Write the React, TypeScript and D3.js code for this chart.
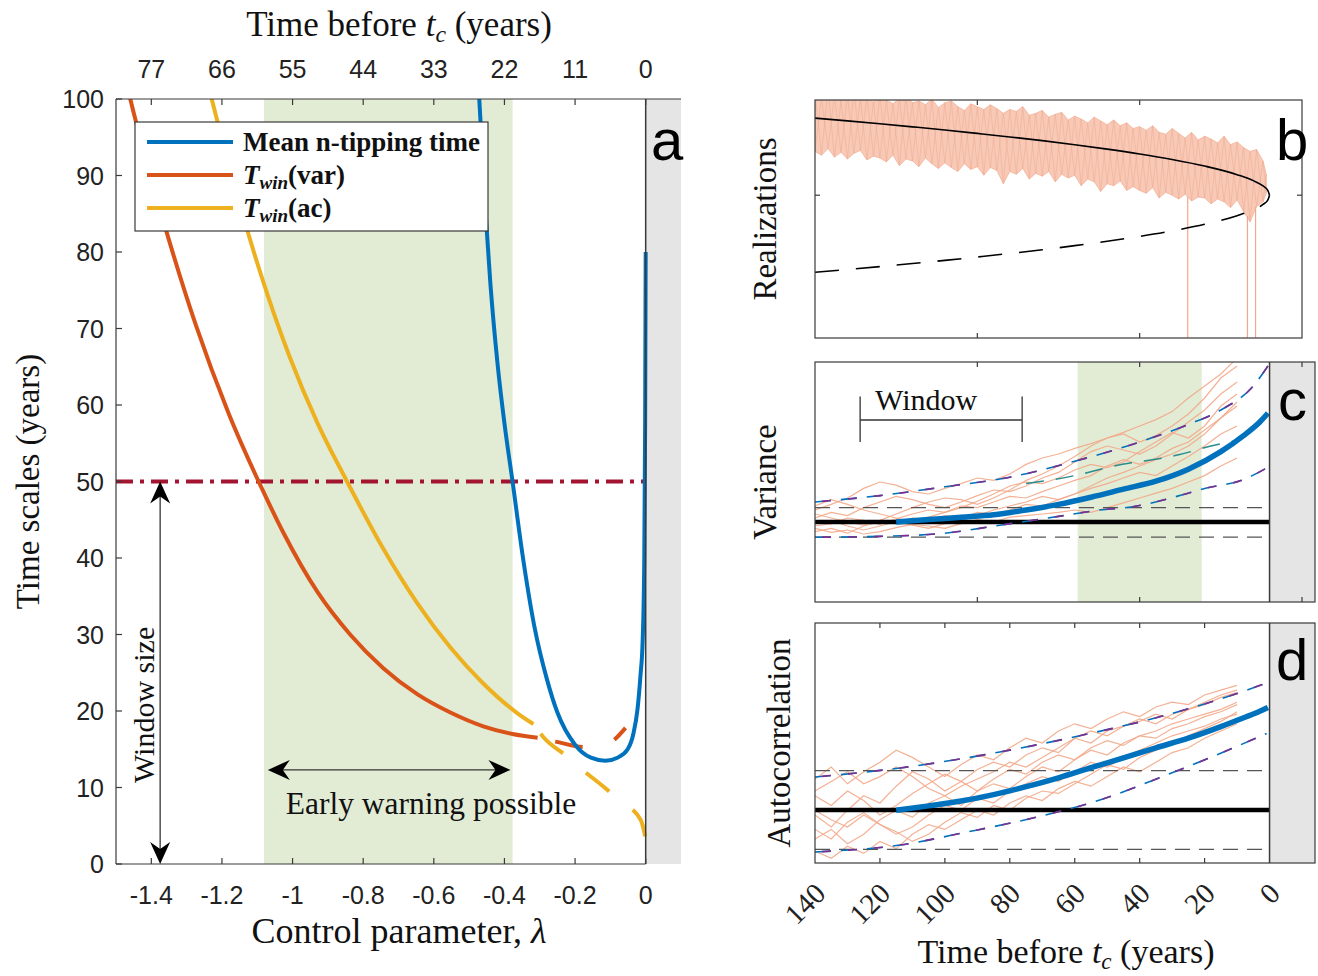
import React from "react";
import * as d3 from "d3";

const SERIF = "'Liberation Serif', 'Times New Roman', serif";
const SANS = "'Liberation Sans', Arial, sans-serif";

// ---------------- Panel a data ----------------
const lambdaTicks = [-1.4, -1.2, -1, -0.8, -0.6, -0.4, -0.2, 0];
const lambdaTickLabels = ["-1.4", "-1.2", "-1", "-0.8", "-0.6", "-0.4", "-0.2", "0"];
const topTickLabels = ["77", "66", "55", "44", "33", "22", "11", "0"];
const yearTicks = [0, 10, 20, 30, 40, 50, 60, 70, 80, 90, 100];

const meanTipLambda = [-0.472, -0.468, -0.455, -0.44, -0.42, -0.4, -0.377, -0.349, -0.315, -0.28, -0.25, -0.2, -0.155, -0.114, -0.08, -0.051, -0.035, -0.023, -0.015, -0.0085, -0.004, -0.0015, 0];
const meanTipYears = [100.6, 97.3, 86.2, 76, 65.6, 57.6, 50, 40.5, 31, 24.2, 19.8, 15.6, 13.9, 13.5, 13.9, 15.0, 17.0, 20.3, 24.5, 29.3, 40, 58, 80];

const varWinLambda = [-1.47, -1.458, -1.368, -1.275, -1.181, -1.09, -1.027, -0.93, -0.837, -0.743, -0.647, -0.553, -0.46, -0.377, -0.306];
const varWinYears = [102, 99.7, 84.4, 70.6, 58.9, 49.4, 43.4, 35.6, 30.0, 25.6, 22.2, 19.8, 18.0, 17.0, 16.5];
const varWinDashLambda = [-0.306, -0.255, -0.176, -0.122, -0.09, -0.057];
const varWinDashYears = [16.5, 16.0, 15.3, 15.3, 16.2, 17.8];

const acWinLambda = [-1.24, -1.229, -1.16, -1.09, -1.01, -0.93, -0.848, -0.743, -0.647, -0.553, -0.46, -0.363, -0.318];
const acWinYears = [102, 100, 87.9, 77.1, 66.5, 57.7, 50.2, 41.2, 34.1, 28.3, 23.6, 19.7, 18.3];
const acWinDashLambda = [-0.318, -0.29, -0.218, -0.176, -0.119, -0.077, -0.014, 0];
const acWinDashYears = [18.3, 16.6, 13.9, 12.2, 10.1, 8.4, 5.75, 3.3];

const windowSizeYears = 50;
const earlyWarningRange = [-1.081, -0.377];
const windowArrowLambda = -1.375;
const earlyArrowLambda = [-1.07, -0.383];
const earlyArrowYears = 12.3;

// ---------------- Panel b data ----------------
const bTickTimes = [90, 40];
const bBranchTime = [140, 130, 120, 110, 100, 90, 80, 70, 60, 50, 40, 30, 20, 10, 5, 2, 0.5, 0];
const bStable = [0.81, 0.781, 0.75, 0.718, 0.685, 0.649, 0.612, 0.573, 0.53, 0.484, 0.433, 0.375, 0.306, 0.216, 0.153, 0.097, 0.048, 0];
const bUnstable = [-0.81, -0.781, -0.75, -0.718, -0.685, -0.649, -0.612, -0.573, -0.53, -0.484, -0.433, -0.375, -0.306, -0.216, -0.153, -0.097, -0.048, 0];
const bNoiseTime = [140, 138, 136, 134, 132, 130, 128, 126, 124, 122, 120, 118, 116, 114, 112, 110, 108, 106, 104, 102, 100, 98, 96, 94, 92, 90, 88, 86, 84, 82, 80, 78, 76, 74, 72, 70, 68, 66, 64, 62, 60, 58, 56, 54, 52, 50, 48, 46, 44, 42, 40, 38, 36, 34, 32, 30, 28, 26, 24, 22, 20, 18, 16, 14, 12, 10, 8, 6, 4, 2, 1];
const bNoiseHigh = [1.08, 1.03, 1.12, 1.05, 0.99, 1.06, 1.09, 1.01, 1.04, 0.98, 1.06, 1.00, 0.96, 1.02, 1.05, 0.97, 0.99, 0.95, 1.01, 0.92, 0.97, 0.99, 0.93, 0.89, 0.96, 0.93, 0.90, 0.95, 0.91, 0.86, 0.90, 0.88, 0.93, 0.84, 0.86, 0.89, 0.82, 0.85, 0.87, 0.79, 0.83, 0.80, 0.76, 0.82, 0.78, 0.74, 0.79, 0.73, 0.76, 0.70, 0.72, 0.68, 0.73, 0.66, 0.64, 0.70, 0.65, 0.60, 0.66, 0.58, 0.62, 0.59, 0.55, 0.62, 0.53, 0.56, 0.50, 0.46, 0.48, 0.36, 0.22];
const bNoiseLow = [0.46, 0.42, 0.49, 0.40, 0.45, 0.38, 0.44, 0.47, 0.37, 0.41, 0.39, 0.35, 0.42, 0.31, 0.38, 0.36, 0.30, 0.39, 0.33, 0.28, 0.34, 0.29, 0.25, 0.33, 0.27, 0.30, 0.21, 0.29, 0.26, 0.12, 0.25, 0.22, 0.28, 0.17, 0.23, 0.20, 0.25, 0.14, 0.22, 0.18, 0.21, 0.10, 0.17, 0.14, 0.04, 0.12, 0.10, 0.15, 0.05, 0.09, 0.05, 0.02, 0.08, -0.03, 0.03, 0.00, -0.04, 0.01, -0.06, -0.02, -0.03, -0.09, -0.04, -0.07, -0.13, -0.05, -0.17, -0.28, -0.12, -0.07, 0.02];
const bDropTime = [25.2, 6.8, 4.3];
const bDropFrom = [-0.02, -0.22, -0.12];

// ---------------- Panel c data ----------------
const cTickTimes = [90, 40, -10];
const traceTime = [140, 135, 130, 125, 120, 115, 110, 105, 100, 95, 90, 85, 80, 75, 70, 65, 60, 55, 50, 45, 40, 35, 30, 25, 20, 15, 10];
const cTrace1 = [1.15, 1.22, 1.30, 1.42, 1.50, 1.46, 1.38, 1.35, 1.42, 1.48, 1.55, 1.52, 1.60, 1.72, 1.80, 1.85, 1.92, 1.98, 2.05, 2.12, 2.20, 2.28, 2.38, 2.55, 2.70, 2.85, 3.05];
const cTrace2 = [1.05, 1.12, 1.08, 1.18, 1.25, 1.32, 1.28, 1.22, 1.18, 1.25, 1.33, 1.40, 1.38, 1.45, 1.55, 1.62, 1.75, 1.88, 1.95, 1.90, 1.85, 1.95, 2.10, 2.25, 2.40, 2.60, 2.75];
const cTrace3 = [0.95, 0.98, 1.05, 1.02, 0.97, 1.04, 1.10, 1.15, 1.12, 1.20, 1.18, 1.25, 1.32, 1.30, 1.38, 1.45, 1.52, 1.58, 1.70, 1.78, 1.72, 1.80, 1.92, 2.00, 2.15, 2.30, 2.50];
const cTrace4 = [0.88, 0.92, 0.86, 0.95, 1.00, 0.98, 1.05, 1.02, 1.08, 1.05, 1.12, 1.10, 1.15, 1.22, 1.20, 1.28, 1.35, 1.42, 1.48, 1.55, 1.62, 1.58, 1.70, 1.82, 1.95, 2.10, 2.20];
const cTrace5 = [1.10, 1.05, 1.00, 0.96, 1.02, 1.10, 1.18, 1.25, 1.30, 1.28, 1.22, 1.30, 1.40, 1.52, 1.60, 1.70, 1.82, 1.95, 2.05, 2.10, 2.00, 2.08, 2.20, 2.35, 2.55, 2.80, 2.95];
const cTrace6 = [0.92, 0.87, 0.90, 0.85, 0.88, 0.93, 0.97, 0.95, 0.92, 0.98, 1.03, 1.00, 1.06, 1.08, 1.10, 1.12, 1.15, 1.12, 1.18, 1.24, 1.30, 1.36, 1.42, 1.50, 1.58, 1.70, 1.80];
const cTrace7 = [1.20, 1.28, 1.22, 1.15, 1.10, 1.05, 1.00, 1.06, 1.12, 1.18, 1.26, 1.35, 1.45, 1.50, 1.48, 1.55, 1.65, 1.72, 1.68, 1.75, 1.88, 2.00, 2.12, 2.05, 2.20, 2.45, 2.60];
const cTrace8 = [0.98, 1.02, 0.95, 0.90, 0.95, 1.00, 0.96, 0.92, 0.98, 1.02, 1.08, 1.15, 1.20, 1.25, 1.32, 1.28, 1.35, 1.45, 1.55, 1.62, 1.70, 1.78, 1.85, 1.95, 2.10, 2.30, 2.45];
const cMeanTime = [115, 105, 95, 85, 75, 65, 55, 45, 35, 25, 15, 8, 3, 0.5];
const cMeanVar = [1.0, 1.03, 1.06, 1.09, 1.15, 1.22, 1.31, 1.41, 1.51, 1.66, 1.88, 2.08, 2.25, 2.36];
const cUpperTime = [140, 120, 100, 80, 60, 40, 25, 15, 5, 0.5];
const cUpperVar = [1.25, 1.33, 1.44, 1.56, 1.76, 2.0, 2.22, 2.4, 2.7, 2.95];
const cMidTime = [75, 60, 49, 28, 17, 10];
const cMidVar = [1.48, 1.58, 1.69, 1.84, 1.96, 2.02];
const cLowerTime = [140, 120, 100, 83, 65, 52.3, 42.2, 26.8, 19.4, 8.3, 0.9];
const cLowerVar = [0.81, 0.82, 0.86, 0.96, 1.07, 1.15, 1.19, 1.34, 1.425, 1.525, 1.675];
const cBaseline = 1.0;
const cBounds = [1.18, 0.81];
const cGreenRange = [59.1, 20.9];
const windowBracket = [126.1, 76.2];

// ---------------- Panel d data ----------------
const dTickTimes = [120, 100, 80, 60, 40, 20];
const dTickLabelTimes = [140, 120, 100, 80, 60, 40, 20, 0];
const dTickLabels = ["140", "120", "100", "80", "60", "40", "20", "0"];
const dTrace1 = [0.35, 0.40, 0.33, 0.38, 0.42, 0.47, 0.44, 0.40, 0.36, 0.41, 0.45, 0.43, 0.48, 0.52, 0.50, 0.55, 0.58, 0.56, 0.60, 0.63, 0.61, 0.65, 0.67, 0.66, 0.70, 0.72, 0.74];
const dTrace2 = [0.20, 0.15, 0.22, 0.28, 0.25, 0.32, 0.38, 0.35, 0.30, 0.34, 0.39, 0.42, 0.40, 0.45, 0.48, 0.46, 0.52, 0.50, 0.55, 0.57, 0.60, 0.58, 0.62, 0.64, 0.66, 0.69, 0.71];
const dTrace3 = [0.10, 0.14, 0.08, 0.12, 0.18, 0.22, 0.19, 0.25, 0.28, 0.24, 0.30, 0.33, 0.31, 0.36, 0.40, 0.38, 0.43, 0.47, 0.45, 0.50, 0.53, 0.52, 0.56, 0.58, 0.61, 0.63, 0.66];
const dTrace4 = [0.28, 0.24, 0.30, 0.26, 0.20, 0.24, 0.29, 0.33, 0.37, 0.34, 0.30, 0.35, 0.39, 0.37, 0.42, 0.45, 0.43, 0.48, 0.51, 0.49, 0.53, 0.55, 0.58, 0.60, 0.62, 0.64, 0.67];
const dTrace5 = [0.05, 0.02, 0.07, 0.04, 0.09, 0.06, 0.12, 0.16, 0.14, 0.18, 0.22, 0.20, 0.25, 0.28, 0.26, 0.31, 0.34, 0.32, 0.36, 0.40, 0.38, 0.42, 0.46, 0.48, 0.52, 0.55, 0.58];
const dTrace6 = [0.22, 0.18, 0.15, 0.20, 0.16, 0.12, 0.15, 0.20, 0.24, 0.22, 0.27, 0.25, 0.30, 0.33, 0.36, 0.34, 0.38, 0.42, 0.40, 0.44, 0.47, 0.50, 0.53, 0.55, 0.57, 0.60, 0.62];
const dTrace7 = [0.30, 0.34, 0.38, 0.33, 0.36, 0.40, 0.36, 0.31, 0.28, 0.32, 0.35, 0.38, 0.42, 0.40, 0.44, 0.48, 0.52, 0.55, 0.53, 0.57, 0.59, 0.62, 0.60, 0.64, 0.67, 0.70, 0.72];
const dTrace8 = [0.14, 0.10, 0.17, 0.21, 0.16, 0.13, 0.09, 0.12, 0.17, 0.21, 0.19, 0.24, 0.22, 0.27, 0.30, 0.29, 0.33, 0.37, 0.41, 0.39, 0.44, 0.47, 0.50, 0.53, 0.56, 0.59, 0.63];
const dMeanTime = [115, 105, 95, 85, 75, 65, 55, 45, 35, 25, 15, 8, 3, 0.5];
const dMeanAc = [0.22, 0.238, 0.258, 0.285, 0.318, 0.355, 0.397, 0.438, 0.48, 0.52, 0.568, 0.605, 0.632, 0.648];
const dUpperTime = [140, 113.8, 83.1, 57.5, 31.7, 11.4, 0.9];
const dUpperAc = [0.358, 0.396, 0.4625, 0.533, 0.617, 0.7, 0.75];
const dLowerTime = [140, 113.8, 93.2, 72.9, 52.3, 31.7, 16.3, 0.9];
const dLowerAc = [0.046, 0.075, 0.129, 0.1875, 0.2625, 0.367, 0.45, 0.54];
const dBaseline = 0.221;
const dBounds = [0.385, 0.057];

// ---------------- colours ----------------
const BLUE = "#0072BD";
const ORANGE = "#D95319";
const YELLOW = "#EDB120";
const CRIMSON = "#A2142F";
const PURPLE = "#7E2F8E";
const TEAL = "#2A8C8C";
const GREEN = "#E2EBD4";
const GRAY = "#E5E5E5";
const SALMON = "#F2A88A";
const AXIS = "#3a3a3a";

const zip = (xs: number[], ys: number[]): [number, number][] => xs.map((x, i) => [x, ys[i]]);

function ArrowHead({ x, y, angle }: { x: number; y: number; angle: number }) {
  return (
    <path
      d="M0,0 L-22,-10 L-15,0 L-22,10 Z"
      transform={`translate(${x},${y}) rotate(${angle})`}
      fill="#000"
    />
  );
}

function TimeTitle({ x, y, size }: { x: number; y: number; size: number }) {
  return (
    <text x={x} y={y} textAnchor="middle" fontSize={size} fill="#111">
      Time before <tspan fontStyle="italic">t</tspan>
      <tspan fontStyle="italic" fontSize={size * 0.68} dy={6}>c</tspan>
      <tspan dy={-6}> (years)</tspan>
    </text>
  );
}

export default function App() {
  // Panel a scales
  const ax = d3.scaleLinear().domain([-1.5, 0.1]).range([116, 681]);
  const ay = d3.scaleLinear().domain([0, 100]).range([864, 99]);
  const lineA = d3
    .line<[number, number]>()
    .x((d) => ax(d[0]))
    .y((d) => ay(d[1]))
    .curve(d3.curveMonotoneX);

  // Panel b scales
  const bx = d3.scaleLinear().domain([140, -10]).range([815, 1302]);
  const by = d3.scaleLinear().domain([-1.5, 1.0]).range([338, 100]);
  const lineB = d3
    .line<[number, number]>()
    .x((d) => bx(d[0]))
    .y((d) => by(d[1]))
    .curve(d3.curveMonotoneX);
  const areaB = d3
    .area<number>()
    .x((_, i) => bx(bNoiseTime[i]))
    .y0((_, i) => by(bNoiseLow[i]))
    .y1((_, i) => by(bNoiseHigh[i]));
  const zigA = d3
    .line<number>()
    .x((_, i) => bx(bNoiseTime[i]))
    .y((_, i) => by(i % 2 === 0 ? bNoiseHigh[i] : bNoiseLow[i]));
  const zigB = d3
    .line<number>()
    .x((_, i) => bx(bNoiseTime[i]))
    .y((_, i) => by(i % 2 === 1 ? bNoiseHigh[i] : bNoiseLow[i]));

  // Panel c / d scales
  const cx = d3.scaleLinear().domain([140, -14]).range([815, 1315]);
  const cy = d3.scaleLinear().domain([0, 3]).range([602, 362]);
  const dy = d3.scaleLinear().domain([0, 1]).range([863, 623]);
  const lineC = d3
    .line<[number, number]>()
    .x((d) => cx(d[0]))
    .y((d) => cy(d[1]))
    .curve(d3.curveMonotoneX);
  const lineCTrace = d3
    .line<[number, number]>()
    .x((d) => cx(d[0]))
    .y((d) => cy(d[1]));
  const lineD = d3
    .line<[number, number]>()
    .x((d) => cx(d[0]))
    .y((d) => dy(d[1]))
    .curve(d3.curveMonotoneX);
  const lineDTrace = d3
    .line<[number, number]>()
    .x((d) => cx(d[0]))
    .y((d) => dy(d[1]));

  const cTraces = [cTrace1, cTrace2, cTrace3, cTrace4, cTrace5, cTrace6, cTrace7, cTrace8];
  const dTraces = [dTrace1, dTrace2, dTrace3, dTrace4, dTrace5, dTrace6, dTrace7, dTrace8];

  const tickLen = 6;

  const QuantileDashes = ({ d }: { d: string }) => (
    <g fill="none">
      <path d={d} stroke={BLUE} strokeWidth={1.6} strokeDasharray="16 10" />
      <path d={d} stroke={PURPLE} strokeWidth={1.6} strokeDasharray="9 17" strokeDashoffset={-7} />
    </g>
  );

  return (
    <svg
      width={1318}
      height={976}
      style={{ position: "absolute", left: 0, top: 0, background: "#fff" }}
      fontFamily={SERIF}
    >
      <defs>
        <clipPath id="clipA">
          <rect x={116} y={99} width={565} height={765} />
        </clipPath>
        <clipPath id="clipB">
          <rect x={815} y={100} width={487} height={238} />
        </clipPath>
        <clipPath id="clipC">
          <rect x={815} y={362} width={500} height={240} />
        </clipPath>
        <clipPath id="clipD">
          <rect x={815} y={623} width={500} height={240} />
        </clipPath>
      </defs>
      <rect x={0} y={0} width={1318} height={976} fill="#fff" />

      {/* ================= Panel a ================= */}
      <rect
        x={ax(earlyWarningRange[0])}
        y={ay(100)}
        width={ax(earlyWarningRange[1]) - ax(earlyWarningRange[0])}
        height={ay(0) - ay(100)}
        fill={GREEN}
      />
      <rect x={ax(0)} y={ay(100)} width={ax(0.1) - ax(0)} height={ay(0) - ay(100)} fill={GRAY} />

      <g clipPath="url(#clipA)" fill="none" strokeLinecap="butt">
        <line
          x1={ax(-1.5)}
          x2={ax(0)}
          y1={ay(windowSizeYears)}
          y2={ay(windowSizeYears)}
          stroke={CRIMSON}
          strokeWidth={4}
          strokeDasharray="17 7 4 7"
        />
        <path d={lineA(zip(varWinLambda, varWinYears)) || ""} stroke={ORANGE} strokeWidth={4} />
        <path
          d={lineA(zip(varWinDashLambda, varWinDashYears)) || ""}
          stroke={ORANGE}
          strokeWidth={4}
          strokeDasharray="0 18 28 16"
        />
        <path d={lineA(zip(acWinLambda, acWinYears)) || ""} stroke={YELLOW} strokeWidth={4} />
        <path
          d={lineA(zip(acWinDashLambda, acWinDashYears)) || ""}
          stroke={YELLOW}
          strokeWidth={4}
          strokeDasharray="0 12 30 18"
        />
        <path d={lineA(zip(meanTipLambda, meanTipYears)) || ""} stroke={BLUE} strokeWidth={4} />
      </g>

      {/* panel a frame */}
      <g stroke={AXIS} strokeWidth={1.2} fill="none">
        <line x1={ax(-1.5)} y1={ay(100)} x2={ax(-1.5)} y2={ay(0)} />
        <line x1={ax(-1.5)} y1={ay(0)} x2={ax(0)} y2={ay(0)} />
        <line x1={ax(-1.5)} y1={ay(100)} x2={ax(0.1)} y2={ay(100)} />
        <line x1={ax(0)} y1={ay(100)} x2={ax(0)} y2={ay(0)} strokeWidth={1.5} />
        {lambdaTicks.map((t) => (
          <g key={"at" + t}>
            <line x1={ax(t)} x2={ax(t)} y1={ay(0)} y2={ay(0) - tickLen} />
            <line x1={ax(t)} x2={ax(t)} y1={ay(100)} y2={ay(100) + tickLen} />
          </g>
        ))}
        {yearTicks.map((v) => (
          <line key={"ay" + v} x1={ax(-1.5)} x2={ax(-1.5) + tickLen} y1={ay(v)} y2={ay(v)} />
        ))}
      </g>

      {/* panel a tick labels */}
      <g fontFamily={SANS} fontSize={25} fill="#222">
        {lambdaTicks.map((t, i) => (
          <text key={"bl" + t} x={ax(t)} y={904} textAnchor="middle">
            {lambdaTickLabels[i]}
          </text>
        ))}
        {lambdaTicks.map((t, i) => (
          <text key={"tl" + t} x={ax(t)} y={78} textAnchor="middle">
            {topTickLabels[i]}
          </text>
        ))}
        {yearTicks.map((v) => (
          <text key={"yl" + v} x={104} y={ay(v) + 9} textAnchor="end">
            {v}
          </text>
        ))}
      </g>

      {/* panel a axis titles */}
      <TimeTitle x={399} y={36} size={35} />
      <text x={399} y={943} textAnchor="middle" fontSize={36} fill="#111">
        Control parameter, <tspan fontStyle="italic">λ</tspan>
      </text>
      <text
        transform={`translate(39, ${ay(50)}) rotate(-90)`}
        textAnchor="middle"
        fontSize={33}
        fill="#111"
      >
        Time scales (years)
      </text>

      {/* legend */}
      <g>
        <rect x={135} y={122} width={353} height={109} fill="#fff" stroke={AXIS} strokeWidth={1.2} />
        <line x1={147} x2={233} y1={142} y2={142} stroke={BLUE} strokeWidth={4} />
        <line x1={147} x2={233} y1={175} y2={175} stroke={ORANGE} strokeWidth={4} />
        <line x1={147} x2={233} y1={208} y2={208} stroke={YELLOW} strokeWidth={4} />
        <g fontSize={27} fontWeight="bold" fill="#111">
          <text x={243} y={151}>Mean n-tipping time</text>
          <text x={243} y={184}>
            <tspan fontStyle="italic">T</tspan>
            <tspan fontStyle="italic" fontSize={19} dy={5}>win</tspan>
            <tspan dy={-5}>(var)</tspan>
          </text>
          <text x={243} y={217}>
            <tspan fontStyle="italic">T</tspan>
            <tspan fontStyle="italic" fontSize={19} dy={5}>win</tspan>
            <tspan dy={-5}>(ac)</tspan>
          </text>
        </g>
      </g>

      {/* window size arrow */}
      <g>
        <line
          x1={ax(windowArrowLambda)}
          x2={ax(windowArrowLambda)}
          y1={ay(windowSizeYears) + 14}
          y2={ay(0) - 14}
          stroke="#333"
          strokeWidth={1.3}
        />
        <ArrowHead x={ax(windowArrowLambda)} y={ay(windowSizeYears)} angle={-90} />
        <ArrowHead x={ax(windowArrowLambda)} y={ay(0)} angle={90} />
        <text
          transform={`translate(${ax(windowArrowLambda) - 6}, ${ay(20.8)}) rotate(-90)`}
          textAnchor="middle"
          fontSize={30}
          fill="#111"
        >
          Window size
        </text>
      </g>

      {/* early warning arrow */}
      <g>
        <line
          x1={ax(earlyArrowLambda[0]) + 14}
          x2={ax(earlyArrowLambda[1]) - 14}
          y1={ay(earlyArrowYears)}
          y2={ay(earlyArrowYears)}
          stroke="#333"
          strokeWidth={1.3}
        />
        <ArrowHead x={ax(earlyArrowLambda[0])} y={ay(earlyArrowYears)} angle={180} />
        <ArrowHead x={ax(earlyArrowLambda[1])} y={ay(earlyArrowYears)} angle={0} />
        <text x={431} y={814} textAnchor="middle" fontSize={31.5} fill="#111">
          Early warning possible
        </text>
      </g>

      <text x={651} y={160} fontFamily={SANS} fontSize={58} fill="#000">
        a
      </text>

      {/* ================= Panel b ================= */}
      <g clipPath="url(#clipB)">
        <path d={areaB(bNoiseTime) || ""} fill="#F6C3AE" fillOpacity={0.9} stroke="#F2B49B" strokeWidth={0.8} />
        <path d={zigA(bNoiseTime) || ""} fill="none" stroke="#EE9E7E" strokeWidth={0.8} strokeOpacity={0.45} />
        <path d={zigB(bNoiseTime) || ""} fill="none" stroke="#EE9E7E" strokeWidth={0.8} strokeOpacity={0.45} />
        {bDropTime.map((t, i) => (
          <line
            key={"drop" + i}
            x1={bx(t)}
            x2={bx(t)}
            y1={by(bDropFrom[i])}
            y2={by(-1.5)}
            stroke={SALMON}
            strokeWidth={1.2}
          />
        ))}
        <path d={lineB(zip(bBranchTime, bStable)) || ""} fill="none" stroke="#000" strokeWidth={1.6} />
        <path
          d={lineB(zip(bBranchTime, bUnstable)) || ""}
          fill="none"
          stroke="#000"
          strokeWidth={1.6}
          strokeDasharray="24 17"
        />
      </g>
      <g stroke={AXIS} strokeWidth={1.2} fill="none">
        <rect x={815} y={100} width={487} height={238} />
        {bTickTimes.map((t) => (
          <g key={"bt" + t}>
            <line x1={bx(t)} x2={bx(t)} y1={by(-1.5)} y2={by(-1.5) - 5} />
            <line x1={bx(t)} x2={bx(t)} y1={by(1.0)} y2={by(1.0) + 5} />
          </g>
        ))}
        <line x1={815} x2={820} y1={by(0)} y2={by(0)} />
        <line x1={1302} x2={1297} y1={by(0)} y2={by(0)} />
      </g>
      <text x={1276} y={160} fontFamily={SANS} fontSize={58} fill="#000">
        b
      </text>
      <text transform={`translate(776, ${(100 + 338) / 2}) rotate(-90)`} textAnchor="middle" fontSize={33} fill="#111">
        Realizations
      </text>

      {/* ================= Panel c ================= */}
      <rect x={cx(cGreenRange[0])} y={362} width={cx(cGreenRange[1]) - cx(cGreenRange[0])} height={240} fill={GREEN} />
      <rect x={cx(0)} y={362} width={cx(-14) - cx(0)} height={240} fill={GRAY} />
      <g clipPath="url(#clipC)" fill="none">
        {cTraces.map((tr, i) => (
          <path key={"ct" + i} d={lineCTrace(zip(traceTime, tr)) || ""} stroke={SALMON} strokeWidth={1.2} strokeOpacity={0.9} />
        ))}
        {cBounds.map((v, i) => (
          <line key={"cb" + i} x1={cx(140)} x2={cx(0)} y1={cy(v)} y2={cy(v)} stroke="#555" strokeWidth={1.3} strokeDasharray="15 9" />
        ))}
        <line x1={cx(140)} x2={cx(0)} y1={cy(cBaseline)} y2={cy(cBaseline)} stroke="#000" strokeWidth={4.5} />
        <QuantileDashes d={lineC(zip(cUpperTime, cUpperVar)) || ""} />
        <QuantileDashes d={lineC(zip(cLowerTime, cLowerVar)) || ""} />
        <path d={lineC(zip(cMidTime, cMidVar)) || ""} stroke={TEAL} strokeWidth={1.5} strokeDasharray="18 12" />
        <path d={lineC(zip(cMeanTime, cMeanVar)) || ""} stroke={BLUE} strokeWidth={5.5} />
      </g>
      <g stroke={AXIS} strokeWidth={1.2} fill="none">
        <rect x={815} y={362} width={500} height={240} />
        <line x1={cx(0)} x2={cx(0)} y1={362} y2={602} strokeWidth={1.5} />
        {cTickTimes.map((t) => (
          <g key={"ctk" + t}>
            <line x1={cx(t)} x2={cx(t)} y1={602} y2={597} />
            <line x1={cx(t)} x2={cx(t)} y1={362} y2={367} />
          </g>
        ))}
      </g>
      {/* window bracket */}
      <g stroke="#333" strokeWidth={1.3}>
        <line x1={cx(windowBracket[0])} x2={cx(windowBracket[1])} y1={cy(2.275)} y2={cy(2.275)} />
        <line x1={cx(windowBracket[0])} x2={cx(windowBracket[0])} y1={cy(2.57)} y2={cy(2.0)} />
        <line x1={cx(windowBracket[1])} x2={cx(windowBracket[1])} y1={cy(2.57)} y2={cy(2.0)} />
      </g>
      <text x={cx(121.5)} y={cy(2.4)} fontSize={30} fill="#111">
        Window
      </text>
      <text x={1278} y={420} fontFamily={SANS} fontSize={58} fill="#000">
        c
      </text>
      <text transform={`translate(776, ${(362 + 602) / 2}) rotate(-90)`} textAnchor="middle" fontSize={33} fill="#111">
        Variance
      </text>

      {/* ================= Panel d ================= */}
      <rect x={cx(0)} y={623} width={cx(-14) - cx(0)} height={240} fill={GRAY} />
      <g clipPath="url(#clipD)" fill="none">
        {dTraces.map((tr, i) => (
          <path key={"dt" + i} d={lineDTrace(zip(traceTime, tr)) || ""} stroke={SALMON} strokeWidth={1.2} strokeOpacity={0.9} />
        ))}
        {dBounds.map((v, i) => (
          <line key={"db" + i} x1={cx(140)} x2={cx(0)} y1={dy(v)} y2={dy(v)} stroke="#555" strokeWidth={1.3} strokeDasharray="15 9" />
        ))}
        <line x1={cx(140)} x2={cx(0)} y1={dy(dBaseline)} y2={dy(dBaseline)} stroke="#000" strokeWidth={4.5} />
        <QuantileDashes d={lineD(zip(dUpperTime, dUpperAc)) || ""} />
        <QuantileDashes d={lineD(zip(dLowerTime, dLowerAc)) || ""} />
        <path d={lineD(zip(dMeanTime, dMeanAc)) || ""} stroke={BLUE} strokeWidth={5.5} />
      </g>
      <g stroke={AXIS} strokeWidth={1.2} fill="none">
        <rect x={815} y={623} width={500} height={240} />
        <line x1={cx(0)} x2={cx(0)} y1={623} y2={863} strokeWidth={1.5} />
        {dTickTimes.map((t) => (
          <g key={"dtk" + t}>
            <line x1={cx(t)} x2={cx(t)} y1={863} y2={858} />
            <line x1={cx(t)} x2={cx(t)} y1={623} y2={628} />
          </g>
        ))}
      </g>
      <text x={1276} y={680} fontFamily={SANS} fontSize={58} fill="#000">
        d
      </text>
      <text transform={`translate(790, ${(623 + 863) / 2}) rotate(-90)`} textAnchor="middle" fontSize={33} fill="#111">
        Autocorrelation
      </text>

      {/* bottom rotated tick labels */}
      <g fontSize={29} fill="#222">
        {dTickLabelTimes.map((t, i) => (
          <text
            key={"dl" + t}
            transform={`translate(${cx(t) + 5}, 888) rotate(-45)`}
            textAnchor="end"
            dy="0.35em"
          >
            {dTickLabels[i]}
          </text>
        ))}
      </g>
      <TimeTitle x={1066} y={963} size={34} />
    </svg>
  );
}
